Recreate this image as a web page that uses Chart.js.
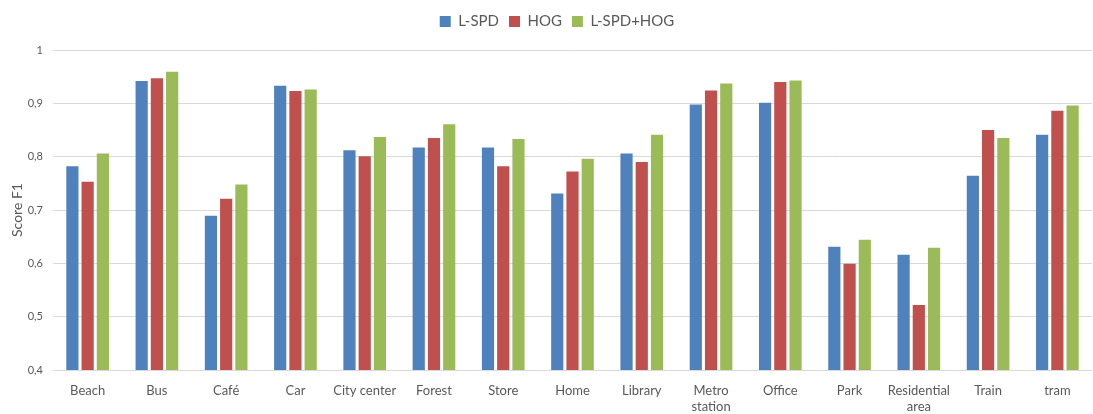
<!DOCTYPE html>
<html>
<head>
<meta charset="utf-8">
<script src="https://cdn.jsdelivr.net/npm/chart.js@4/dist/chart.umd.min.js"></script>
<style>
  html, body { margin: 0; padding: 0; background: #fff; }
  #wrap { width: 1093px; height: 414px; }
</style>
</head>
<body>
<div id="wrap"><canvas id="scoreChart" width="1093" height="414"></canvas></div>
<script>
// categories and F1 scores
const categories = ['Beach', 'Bus', 'Café', 'Car', 'City center', 'Forest', 'Store', 'Home',
    'Library', ['Metro', 'station'], 'Office', 'Park', ['Residential', 'area'], 'Train', 'tram'];
const lspd    = [0.782, 0.942, 0.689, 0.933, 0.812, 0.817, 0.817, 0.731, 0.806, 0.898, 0.901, 0.631, 0.616, 0.764, 0.841];
const hog     = [0.753, 0.947, 0.721, 0.923, 0.801, 0.835, 0.782, 0.772, 0.790, 0.924, 0.940, 0.599, 0.522, 0.850, 0.886];
const lspdHog = [0.806, 0.959, 0.748, 0.926, 0.837, 0.861, 0.833, 0.796, 0.841, 0.937, 0.943, 0.644, 0.629, 0.835, 0.896];
const yTicks  = [0.4, 0.5, 0.6, 0.7, 0.8, 0.9, 1];

const textColor = '#595959';
const fontFamily = 'Lato, "Open Sans", sans-serif';

// fix legend block height and nudge it right like in the original
const legendTweak = {
    id: 'legendTweak',
    beforeInit(chart) {
        const fit = chart.legend.fit;
        chart.legend.fit = function () {
            fit.bind(chart.legend)();
            this.height = 46;
        };
    },
    afterLayout(chart) {
        chart.legend.left += 11;
        chart.legend.right += 11;
    }
};

const ctx = document.getElementById('scoreChart').getContext('2d');
new Chart(ctx, {
    type: 'bar',
    data: {
        labels: categories,
        datasets: [
            { label: 'L-SPD', data: lspd, backgroundColor: '#4F81BD' },
            { label: 'HOG', data: hog, backgroundColor: '#C0504D' },
            { label: 'L-SPD+HOG', data: lspdHog, backgroundColor: '#9BBB59' }
        ]
    },
    options: {
        responsive: false,
        animation: false,
        barPercentage: 0.8,
        categoryPercentage: 0.66,
        layout: { padding: { left: 0, right: 1, top: 4, bottom: 0 } },
        scales: {
            x: {
                grid: { display: false },
                border: { display: false },
                ticks: {
                    color: textColor,
                    font: { family: fontFamily, size: 13 },
                    maxRotation: 0,
                    autoSkip: false,
                    padding: 5
                },
                afterFit(scale) { scale.height = 44; }
            },
            y: {
                min: 0.4,
                max: 1,
                afterBuildTicks(scale) {
                    scale.ticks = yTicks.map(v => ({ value: v }));
                },
                ticks: {
                    color: textColor,
                    font: { family: fontFamily, size: 11 },
                    padding: 10,
                    callback: v => String(v).replace('.', ',')
                },
                grid: { color: '#d9d9d9', lineWidth: 1, drawTicks: false },
                border: { display: false },
                title: {
                    display: true,
                    text: 'Score F1',
                    color: textColor,
                    font: { family: fontFamily, size: 14 },
                    padding: { top: 9, bottom: 4 }
                },
                afterFit(scale) { scale.width = 53; }
            }
        },
        plugins: {
            legend: {
                position: 'top',
                labels: {
                    color: textColor,
                    font: { family: fontFamily, size: 15 },
                    boxWidth: 11,
                    boxHeight: 11,
                    padding: 10
                }
            },
            tooltip: { enabled: false }
        }
    },
    plugins: [legendTweak]
});
</script>
</body>
</html>
